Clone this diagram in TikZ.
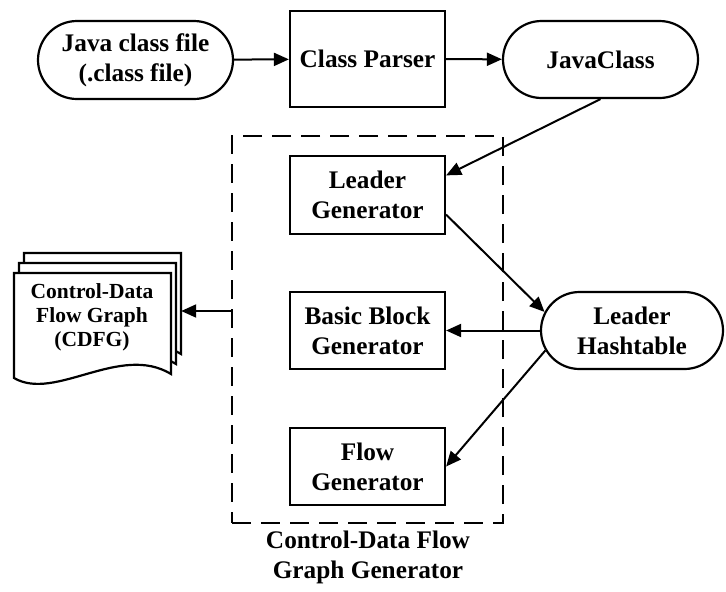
\documentclass[tikz,border=0pt]{standalone}
\usepackage{fontspec}
\setmainfont{Liberation Serif}
\usetikzlibrary{shapes.misc,arrows.meta,calc}

\tikzset{
  base/.style={font=\fontsize{25.3pt}{30pt}\selectfont\bfseries, align=center,
               inner sep=0pt, line width=2.2pt},
  pill/.style={base, draw, rounded rectangle},
  block/.style={base, draw, rectangle, minimum width=155pt, minimum height=78pt},
  link/.style={line width=2pt, -{Triangle[length=15pt,width=13pt]}},
  docpage/.style={draw, fill=white, line width=2.2pt, line join=miter},
}

\begin{document}
\begin{tikzpicture}[x=1pt,y=-1pt]
  % canvas
  \fill[white] (0,0) rectangle (726,592);
  \useasboundingbox (0,0) rectangle (726,592);

  % top row
  \node[pill, minimum width=195pt, minimum height=78pt] (src) at (135.5,60) {Java class file\\(.class file)};
  \node[block, minimum height=96pt] (parser) at (367.5,59) {Class Parser};
  \node[pill, minimum width=195pt, minimum height=77pt] (jclass) at (600.5,59.5) {JavaClass};

  % generator group
  \node[draw, dashed, dash pattern=on 19pt off 10pt, line width=2.2pt,
        minimum width=271pt, minimum height=387pt, inner sep=0pt] (gen) at (367.5,329.5) {};
  \node[block] (leader) at (367.5,195) {Leader\\Generator};
  \node[block, minimum height=77pt] (basic) at (367.5,330.5) {Basic Block\\Generator};
  \node[block, minimum height=77pt] (flow) at (367.5,466.5) {Flow\\Generator};
  \node[base] (genlabel) at (368,557) {Control-Data Flow\\Graph Generator};

  % hashtable
  \node[pill, minimum width=182pt, minimum height=77pt] (hash) at (632,330.5) {Leader\\Hashtable};

  % stacked document output
  \foreach \dx/\dy in {10/-20, 5/-10, 0/0} {
    \draw[docpage, shift={(\dx,\dy)}]
      (14,273) -- (171,273) -- (171,374)
      .. controls (120,343) and (55,402) .. (14,378) -- cycle;
  }
  \node[inner sep=0pt, minimum width=157pt, minimum height=104pt] (cdfg) at (102.5,305) {};
  \node[base, font=\fontsize{21.5pt}{24pt}\selectfont\bfseries] (cdfgtext) at (92,317)
    {Control-Data\\Flow Graph\\(CDFG)};

  % connectors
  \draw[link] (src) -- (parser);
  \draw[link] (parser) -- (jclass);
  \draw[link] (jclass.south) -- (leader.14.5);
  \draw[link] (leader.-14.5) -- (hash.168.6);
  \draw[link] (hash.west) -- (basic.east);
  \draw[link] (hash.-167.8) -- (flow.east);
  \coordinate (tap) at ($(gen.west)+(0,-18.5)$);
  \draw[link] (tap) -- (tap -| cdfg.east);
\end{tikzpicture}
\end{document}
